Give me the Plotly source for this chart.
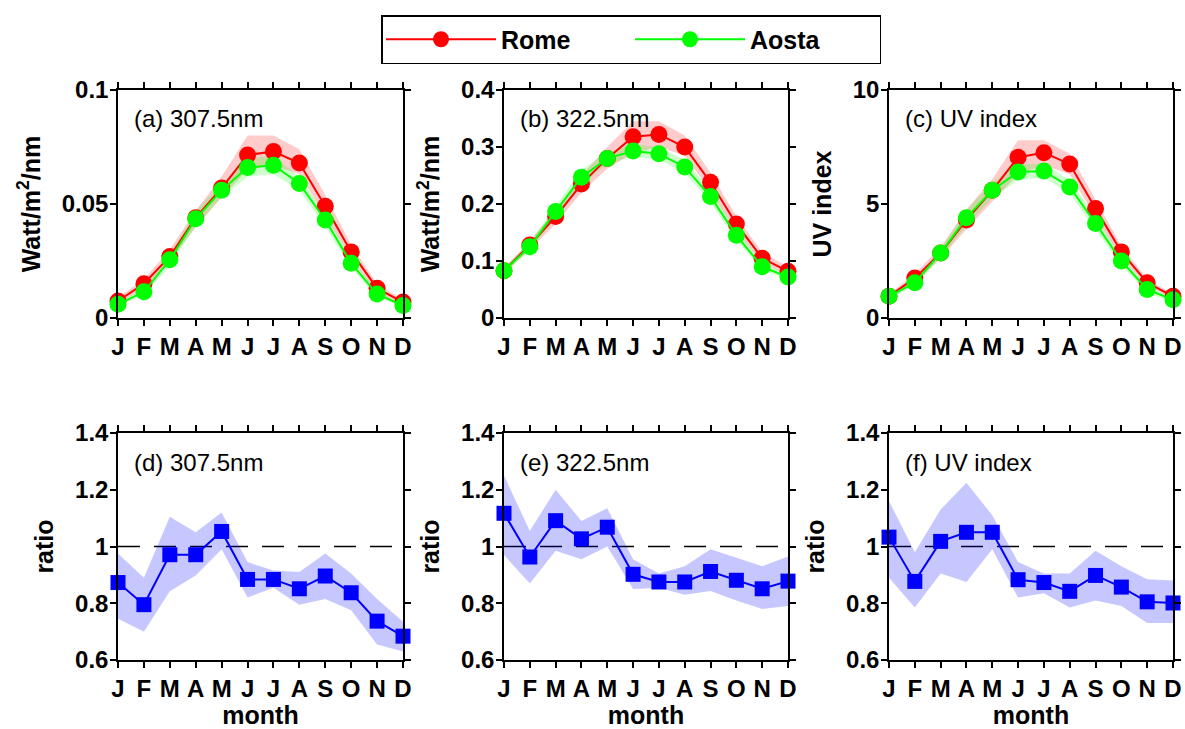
import plotly.graph_objects as go

months = ["J", "F", "M", "A", "M", "J", "J", "A", "S", "O", "N", "D"]
mnum = list(range(1, 13))

# (a) 307.5 nm  [Watt/m2/nm]
a_rome = [0.0075, 0.015, 0.027, 0.044, 0.057, 0.0715, 0.073, 0.068, 0.049, 0.029, 0.013, 0.007]
a_rome_hi = [0.009, 0.017, 0.030, 0.047, 0.062, 0.080, 0.080, 0.074, 0.054, 0.032, 0.015, 0.008]
a_rome_lo = [0.006, 0.013, 0.025, 0.040, 0.053, 0.065, 0.067, 0.063, 0.045, 0.026, 0.011, 0.006]
a_aosta = [0.006, 0.0115, 0.0255, 0.0435, 0.056, 0.066, 0.067, 0.059, 0.043, 0.024, 0.0105, 0.0055]
a_aosta_hi = [0.007, 0.013, 0.028, 0.047, 0.059, 0.070, 0.071, 0.062, 0.046, 0.026, 0.012, 0.006]
a_aosta_lo = [0.005, 0.010, 0.023, 0.040, 0.053, 0.062, 0.063, 0.056, 0.040, 0.022, 0.009, 0.005]

# (b) 322.5 nm  [Watt/m2/nm]
b_rome = [0.083, 0.128, 0.178, 0.235, 0.280, 0.318, 0.322, 0.300, 0.238, 0.165, 0.105, 0.082]
b_rome_hi = [0.088, 0.135, 0.190, 0.250, 0.300, 0.345, 0.345, 0.320, 0.255, 0.178, 0.115, 0.090]
b_rome_lo = [0.078, 0.120, 0.165, 0.220, 0.262, 0.290, 0.300, 0.285, 0.222, 0.152, 0.097, 0.076]
b_aosta = [0.083, 0.125, 0.187, 0.247, 0.280, 0.293, 0.288, 0.265, 0.213, 0.145, 0.090, 0.072]
b_aosta_hi = [0.088, 0.133, 0.197, 0.260, 0.290, 0.305, 0.300, 0.277, 0.225, 0.155, 0.097, 0.078]
b_aosta_lo = [0.078, 0.118, 0.177, 0.235, 0.270, 0.283, 0.278, 0.255, 0.202, 0.137, 0.084, 0.067]

# (c) UV index
c_rome = [0.95, 1.75, 2.85, 4.3, 5.6, 7.05, 7.25, 6.75, 4.8, 2.9, 1.55, 0.95]
c_rome_hi = [1.05, 1.95, 3.1, 4.75, 6.1, 7.8, 7.8, 7.2, 5.2, 3.15, 1.7, 1.05]
c_rome_lo = [0.85, 1.55, 2.6, 3.9, 5.1, 6.3, 6.7, 6.3, 4.4, 2.65, 1.4, 0.85]
c_aosta = [0.95, 1.55, 2.85, 4.4, 5.6, 6.4, 6.45, 5.75, 4.15, 2.5, 1.25, 0.8]
c_aosta_hi = [1.05, 1.7, 3.05, 4.75, 5.95, 6.75, 6.75, 6.05, 4.45, 2.7, 1.4, 0.9]
c_aosta_lo = [0.85, 1.4, 2.65, 4.05, 5.25, 6.05, 6.15, 5.45, 3.9, 2.3, 1.1, 0.7]

# (d)-(f) ratio Aosta/Rome
d_ratio = [0.873, 0.795, 0.971, 0.971, 1.053, 0.884, 0.884, 0.851, 0.896, 0.837, 0.737, 0.684]
d_hi = [0.975, 0.89, 1.105, 1.05, 1.12, 0.945, 0.915, 0.91, 0.975, 0.905, 0.815, 0.735]
d_lo = [0.745, 0.70, 0.842, 0.898, 0.99, 0.82, 0.855, 0.795, 0.815, 0.775, 0.655, 0.63]

e_ratio = [1.117, 0.963, 1.091, 1.027, 1.068, 0.902, 0.875, 0.875, 0.912, 0.881, 0.851, 0.878]
e_hi = [1.25, 1.055, 1.2, 1.09, 1.135, 0.955, 0.905, 0.93, 0.99, 0.96, 0.93, 0.965]
e_lo = [0.97, 0.87, 0.985, 0.955, 1.0, 0.85, 0.855, 0.83, 0.843, 0.81, 0.78, 0.79]

f_ratio = [1.033, 0.877, 1.018, 1.05, 1.05, 0.883, 0.873, 0.842, 0.898, 0.857, 0.805, 0.801]
f_hi = [1.16, 0.98, 1.13, 1.225, 1.11, 0.945, 0.905, 0.905, 0.985, 0.93, 0.885, 0.88]
f_lo = [0.89, 0.785, 0.905, 0.875, 0.99, 0.82, 0.835, 0.785, 0.81, 0.79, 0.73, 0.73]

panel_labels = ["(a) 307.5nm", "(b) 322.5nm", "(c) UV index",
                "(d) 307.5nm", "(e) 322.5nm", "(f) UV index"]
top_ranges = [[0, 0.1], [0, 0.4], [0, 10]]
top_tickvals = [[0, 0.05, 0.1], [0, 0.1, 0.2, 0.3, 0.4], [0, 5, 10]]
top_ticktext = [["0", "0.05", "0.1"], ["0", "0.1", "0.2", "0.3", "0.4"], ["0", "5", "10"]]
top_titles = ["Watt/m<sup>2</sup>/nm", "Watt/m<sup>2</sup>/nm", "UV index"]
ratio_tickvals = [0.6, 0.8, 1.0, 1.2, 1.4]
ratio_ticktext = ["0.6", "0.8", "1", "1.2", "1.4"]

FONT = "Liberation Sans, Arial, sans-serif"
RED = "#ff0000"
GREEN = "#00ff00"
BLUE = "#0000ff"

W, H = 1185, 729
xdom = [[118 / W, 403 / W], [504 / W, 788 / W], [889 / W, 1173 / W]]
ydom_top = [1 - 318 / H, 1 - 90 / H]
ydom_bot = [1 - 660 / H, 1 - 433 / H]

fig = go.Figure()


def band(xa, ya, lo, hi, color):
    fig.add_trace(go.Scatter(
        x=mnum + mnum[::-1], y=hi + lo[::-1], fill="toself", fillcolor=color,
        line=dict(width=0), mode="lines", hoverinfo="skip", showlegend=False,
        xaxis=xa, yaxis=ya))


top_data = [
    (a_rome, a_rome_lo, a_rome_hi, a_aosta, a_aosta_lo, a_aosta_hi),
    (b_rome, b_rome_lo, b_rome_hi, b_aosta, b_aosta_lo, b_aosta_hi),
    (c_rome, c_rome_lo, c_rome_hi, c_aosta, c_aosta_lo, c_aosta_hi),
]
bot_data = [(d_ratio, d_lo, d_hi), (e_ratio, e_lo, e_hi), (f_ratio, f_lo, f_hi)]

for i, (r, rlo, rhi, a, alo, ahi) in enumerate(top_data):
    xa = "x" if i == 0 else f"x{i + 1}"
    ya = "y" if i == 0 else f"y{i + 1}"
    band(xa, ya, rlo, rhi, "rgba(255,0,0,0.2)")
    band(xa, ya, alo, ahi, "rgba(0,255,0,0.2)")
    fig.add_trace(go.Scatter(
        x=mnum, y=r, mode="lines+markers", name="Rome", legendgroup="Rome",
        showlegend=(i == 0), cliponaxis=False,
        line=dict(color=RED, width=2), marker=dict(color=RED, size=17, symbol="circle"),
        xaxis=xa, yaxis=ya))
    fig.add_trace(go.Scatter(
        x=mnum, y=a, mode="lines+markers", name="Aosta", legendgroup="Aosta",
        showlegend=(i == 0), cliponaxis=False,
        line=dict(color=GREEN, width=2), marker=dict(color=GREEN, size=17, symbol="circle"),
        xaxis=xa, yaxis=ya))

for i, (r, lo, hi) in enumerate(bot_data):
    xa = f"x{i + 4}"
    ya = f"y{i + 4}"
    band(xa, ya, lo, hi, "rgba(0,0,255,0.22)")
    fig.add_trace(go.Scatter(
        x=mnum, y=r, mode="lines+markers", showlegend=False, cliponaxis=False,
        line=dict(color=BLUE, width=2), marker=dict(color=BLUE, size=15, symbol="square"),
        xaxis=xa, yaxis=ya))
    fig.add_shape(type="line", xref=xa, yref=ya, x0=1, x1=12, y0=1, y1=1,
                  line=dict(color="black", width=1.5, dash="22px,14px"), layer="below")

axis_common = dict(showline=True, linecolor="black", linewidth=1.5, mirror="ticks",
                   ticks="outside", ticklen=6, tickwidth=1.5, tickcolor="black",
                   showgrid=False, zeroline=False, automargin=False,
                   tickfont=dict(family=FONT, size=24, color="black", weight="bold"))
title_font = dict(family=FONT, size=25, color="black", weight="bold")

layout = dict(
    template="none",
    width=W, height=H, margin=dict(l=0, r=0, t=0, b=0, pad=0, autoexpand=False),
    paper_bgcolor="white", plot_bgcolor="white",
    font=dict(family=FONT, size=22, color="black"),
    showlegend=True,
    legend=dict(orientation="h", x=381 / W, xanchor="left", y=1 - 15 / H, yanchor="top",
                bordercolor="black", borderwidth=1.5, bgcolor="white",
                font=dict(family=FONT, size=25, color="black", weight="bold"),
                itemwidth=110, entrywidth=124, tracegroupgap=0),
)

for i in range(6):
    xn = "xaxis" if i == 0 else f"xaxis{i + 1}"
    yn = "yaxis" if i == 0 else f"yaxis{i + 1}"
    ya_id = "y" if i == 0 else f"y{i + 1}"
    xa_id = "x" if i == 0 else f"x{i + 1}"
    col = i % 3
    top = i < 3
    xax = dict(axis_common, domain=xdom[col], anchor=ya_id, range=[1, 12],
               tickvals=mnum, ticktext=months)
    if not top:
        xax["title"] = dict(text="month", standoff=8, font=title_font)
    yax = dict(axis_common, domain=ydom_top if top else ydom_bot, anchor=xa_id,
               ticklabelstandoff=-3)
    if top:
        yax.update(range=top_ranges[col], tickvals=top_tickvals[col], ticktext=top_ticktext[col],
                   title=dict(text=top_titles[col], standoff=14, font=title_font))
    else:
        yax.update(range=[0.6, 1.4], tickvals=ratio_tickvals, ticktext=ratio_ticktext,
                   title=dict(text="ratio", standoff=14, font=title_font))
    layout[xn] = xax
    layout[yn] = yax

fig.update_layout(**layout)

for i, lab in enumerate(panel_labels):
    xa_id = "x" if i == 0 else f"x{i + 1}"
    ya_id = "y" if i == 0 else f"y{i + 1}"
    fig.add_annotation(text=lab, xref=f"{xa_id} domain", yref=f"{ya_id} domain",
                       x=0.05, y=0.875 if i < 3 else 0.87, xanchor="left", yanchor="middle",
                       showarrow=False, font=dict(family=FONT, size=24, color="black"))

fig.write_html("out.html", config={"displayModeBar": False},
               post_script="document.body.style.margin='0px';")
